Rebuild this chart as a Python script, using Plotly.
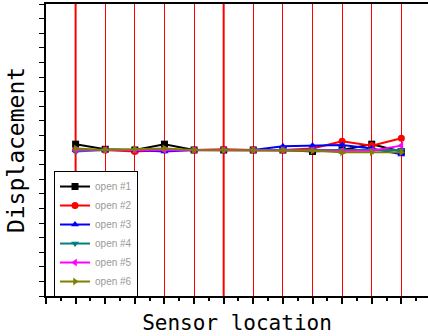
import plotly.graph_objects as go

sensor_x = [1, 2, 3, 4, 5, 6, 7, 8, 9, 10, 11, 12]
series_names = ["open #1", "open #2", "open #3", "open #4", "open #5", "open #6"]
open1 = [0.4, 0.05, 0.0, 0.4, 0.0, 0.0, 0.0, 0.0, -0.1, 0.0, 0.4, -0.1]
open2 = [0.0, 0.0, -0.1, 0.0, 0.0, 0.05, 0.0, 0.0, 0.1, 0.6, 0.3, 0.8]
open3 = [0.0, 0.0, 0.0, -0.1, 0.0, 0.0, 0.0, 0.25, 0.3, 0.35, 0.1, -0.3]
open4 = [-0.1, 0.0, 0.0, 0.0, 0.0, 0.0, 0.0, 0.0, 0.0, 0.0, 0.0, 0.0]
open5 = [0.0, 0.0, 0.0, 0.0, 0.0, 0.0, 0.0, 0.0, 0.0, -0.05, -0.05, 0.3]
open6 = [0.1, 0.0, 0.05, 0.1, 0.0, 0.0, 0.0, 0.0, -0.05, -0.15, -0.15, -0.15]
thick_lines = [1, 6]

all_series = [open1, open2, open3, open4, open5, open6]
colors = ["#000000", "#ff0000", "#0000ff", "#008080", "#ff00ff", "#808000"]
symbols = ["square", "circle", "triangle-up", "triangle-down", "triangle-left", "triangle-right"]

fig = go.Figure()
for name, ys, c, s in zip(series_names, all_series, colors, symbols):
    fig.add_trace(go.Scatter(
        x=sensor_x, y=ys, name=name, mode="lines+markers",
        line=dict(color=c, width=2), marker=dict(symbol=s, size=7, color=c),
    ))

for xv in thick_lines:
    fig.add_vline(x=xv, line_color="#ff0000", line_width=2, layer="below")

fig.update_layout(
    width=428, height=336,
    margin=dict(l=46, r=0, t=4, b=40),
    plot_bgcolor="white", paper_bgcolor="white",
    showlegend=True,
    legend=dict(
        x=0.021, y=0.428, xanchor="left", yanchor="top",
        bordercolor="black", borderwidth=1, bgcolor="white",
        font=dict(family="Liberation Sans", size=10, color="#999999"),
        itemwidth=30,
    ),
    xaxis=dict(
        range=[0, 12.9], dtick=1, tick0=0,
        showgrid=True, gridcolor="#ff0000", gridwidth=1, zeroline=False,
        showline=True, linecolor="black", linewidth=2, mirror=True,
        ticks="outside", ticklen=6, tickwidth=1.5, tickcolor="black",
        minor=dict(ticks="outside", ticklen=3, dtick=0.5, tickcolor="black", showgrid=False),
        showticklabels=False,
        title=dict(text="Sensor location", standoff=12,
                   font=dict(family="DejaVu Sans Mono", size=21, color="black")),
    ),
    yaxis=dict(
        range=[-10, 10], dtick=1, showgrid=False, zeroline=False,
        showline=True, linecolor="black", linewidth=2,
        ticks="outside", ticklen=5, tickwidth=1.2, tickcolor="black",
        showticklabels=False,
        title=dict(text="Displacement", standoff=8,
                   font=dict(family="DejaVu Sans Mono", size=23, color="black")),
    ),
)

fig.write_html("out.html")
